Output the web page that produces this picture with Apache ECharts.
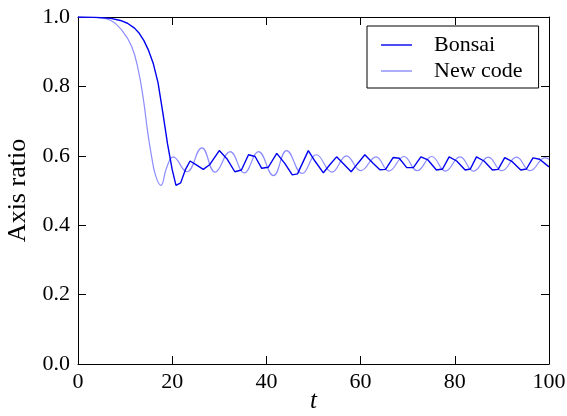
<!DOCTYPE html>
<html>
<head>
<meta charset="utf-8">
<script src="https://cdn.jsdelivr.net/npm/echarts@6/dist/echarts.min.js"></script>
<style>html,body{margin:0;padding:0;background:#fff;}#c{width:567px;height:416px;}</style>
</head>
<body>
<div id="c"></div>
<script>
var seriesNames = ['Bonsai', 'New code'];
var xTicks = [0, 20, 40, 60, 80, 100];
var yTicks = [0.0, 0.2, 0.4, 0.6, 0.8, 1.0];
var bonsai = [
  [0,1.0],[4,0.999],[7,0.996],[9,0.99],[10.5,0.982],[12,0.968],[13,0.953],[14,0.932],[15,0.903],[16,0.865],
  [17,0.81],[18,0.725],[19,0.635],[20,0.56],[20.8,0.515],[21.8,0.522],[22.8,0.56],[23.8,0.585],[25.2,0.573],
  [26.6,0.561],[28,0.575],[30,0.615],[31.7,0.59],[33.3,0.554],[34.7,0.559],[36.2,0.603],[37.6,0.598],[39,0.564],
  [40.4,0.567],[42.2,0.607],[43.9,0.578],[45.5,0.545],[46.6,0.548],[48.9,0.615],[50.3,0.585],[52.1,0.551],
  [53.5,0.575],[54.9,0.597],[56.3,0.578],[58,0.554],[59.4,0.578],[60.9,0.603],[62.7,0.578],[64.1,0.56],
  [65.3,0.561],[66.9,0.595],[68.2,0.593],[69.8,0.566],[71.2,0.566],[72.8,0.597],[74.3,0.588],[76.1,0.559],
  [77.4,0.562],[78.8,0.597],[80.4,0.585],[82.2,0.559],[83.3,0.562],[84.6,0.597],[86.2,0.585],[88,0.559],
  [89.2,0.561],[90.6,0.595],[92.2,0.583],[94,0.559],[95.2,0.562],[96.6,0.594],[98,0.59],[100,0.568]
];
var newCode = [
  [0,1.0],[4,0.998],[7,0.99],[9.3,0.962],[11.4,0.915],[12.8,0.847],[13.9,0.761],[14.8,0.668],
  [15.6,0.6],[16.5,0.542],[17.6,0.515],[18.8,0.565],[20.2,0.597],[23.1,0.554],[26.3,0.623],
  [29.1,0.553],[32.3,0.612],[35.3,0.551],[38.3,0.612],[41.5,0.543],[44.3,0.615],[47.6,0.549],[50.6,0.603],
  [53.9,0.553],[57.0,0.6],[60.0,0.557],[63.3,0.597],[66.0,0.556],[69.2,0.598],[72.0,0.557],[75.1,0.598],
  [78.0,0.556],[81.1,0.597],[84.0,0.556],[87.1,0.596],[90.0,0.557],[93.1,0.596],[96.0,0.557],[99.2,0.595],[100,0.59]
];

var FONT = 'Liberation Serif';
var chart = echarts.init(document.getElementById('c'), null, {renderer: 'canvas'});
function axisCommon() {
  return {
    axisLine: {show: true, onZero: false, lineStyle: {color: '#000', width: 1}},
    axisTick: {show: true, inside: true, length: 8, lineStyle: {color: '#000', width: 1}},
    splitLine: {show: false}
  };
}
var xMain = Object.assign(axisCommon(), {
  type: 'value', min: xTicks[0], max: xTicks[xTicks.length-1], interval: xTicks[1]-xTicks[0],
  position: 'bottom',
  name: 't', nameLocation: 'middle', nameGap: 25, nameMoveOverlap: false,
  nameTextStyle: {fontFamily: FONT, fontSize: 25, fontStyle: 'italic', color: '#000'},
  axisLabel: {fontFamily: FONT, fontSize: 22, color: '#000', margin: 7}
});
var xTop = Object.assign(axisCommon(), {
  type: 'value', min: xTicks[0], max: xTicks[xTicks.length-1], interval: xTicks[1]-xTicks[0],
  position: 'top', axisLabel: {show: false}
});
var yMain = Object.assign(axisCommon(), {
  type: 'value', min: yTicks[0], max: yTicks[yTicks.length-1], interval: 0.2,
  position: 'left',
  name: 'Axis ratio', nameLocation: 'middle', nameGap: 46,
  nameTextStyle: {fontFamily: FONT, fontSize: 26, color: '#000'},
  axisLabel: {fontFamily: FONT, fontSize: 22, color: '#000', margin: 8, formatter: function(v){return v.toFixed(1);}}
});
var yRight = Object.assign(axisCommon(), {
  type: 'value', min: yTicks[0], max: yTicks[yTicks.length-1], interval: 0.2,
  position: 'right', axisLabel: {show: false}
});
var lineIcon = 'path://M0,0h31v1.4h-31z';
chart.setOption({
  backgroundColor: '#fff',
  animation: false,
  grid: {left: 78, right: 18, top: 17, bottom: 52, containLabel: false, outerBoundsMode: 'none'},
  xAxis: [xMain, xTop],
  yAxis: [yMain, yRight],
  legend: {
    orient: 'vertical', left: 367, top: 26,
    padding: [8, 16, 6, 14],
    borderColor: '#000', borderWidth: 1, borderRadius: 0,
    backgroundColor: '#fff',
    itemWidth: 31, itemHeight: 14, itemGap: 4,
    textStyle: {fontFamily: FONT, fontSize: 22, color: '#000', padding: [0, 0, 0, 17]},
    data: [{name: seriesNames[0], icon: lineIcon}, {name: seriesNames[1], icon: lineIcon}]
  },
  series: [
    {name: seriesNames[1], type: 'line', data: newCode, symbol: 'none', smooth: 0.45,
     lineStyle: {color: '#8c8cff', width: 1.2}, itemStyle: {color: '#8c8cff'}, z: 2},
    {name: seriesNames[0], type: 'line', data: bonsai, symbol: 'none', smooth: false,
     lineStyle: {color: '#0000ee', width: 1.4}, itemStyle: {color: '#0000ee'}, z: 3}
  ]
});
</script>
</body>
</html>
